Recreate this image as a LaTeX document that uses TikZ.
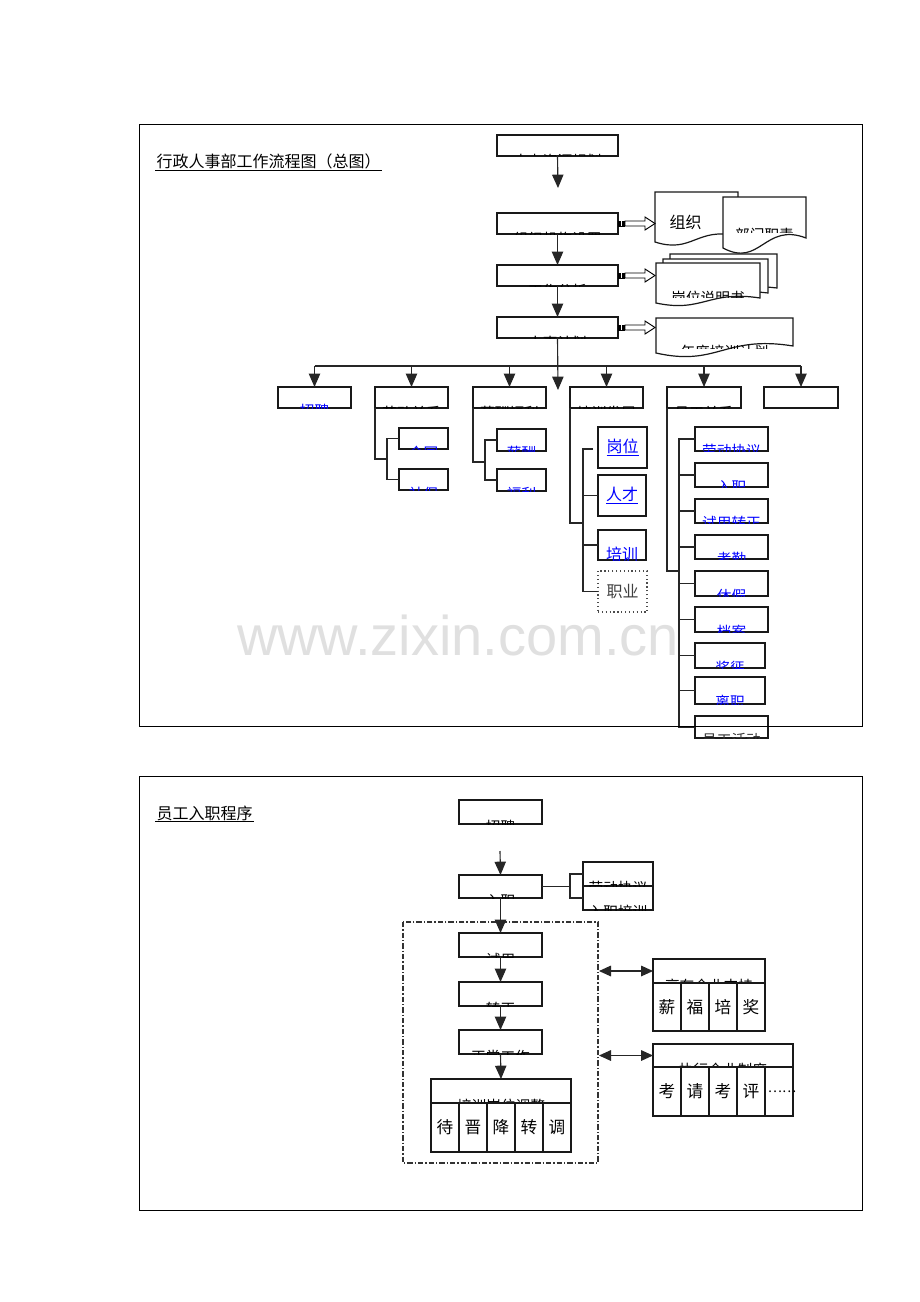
\documentclass[tikz,border=0pt]{standalone}
\usepackage{fontspec}
\setmainfont{Noto Sans CJK SC}
\newfontfamily\wmfont{Liberation Sans}
\usetikzlibrary{arrows.meta}
% [opt]{x1}{y1}{x2}{y2}{name}{text}
\newcommand\mkbox[7][]{\node[box,#1,minimum width={(#4-#2)*0.75pt},minimum height={(#5-#3)*0.75pt}] (#6) at ({(#2+#4)/2},{(#3+#5)/2}) {#7};}
% {name}{x1}{y1}{x2}{y2}{colour}{offset}{text}
\newcommand\cliptx[8]{\begin{scope}\clip (#2,#3) rectangle (#4,#5);\node[anchor=north,inner sep=0pt,text=#6,font=\fontsize{11}{13}\selectfont] (#1) at ({(#2+#4)/2},{#5-#7}) {#8};\end{scope}}
% {x1}{y1}{x2}{ybottom-right}{d}
\newcommand\docpath[5]{(#1,#2) -- (#3,#2) -- (#3,#4) .. controls ({#1+0.5*(#3-#1)},{#4-1.6*#5}) and ({#1+0.45*(#3-#1)},{#4+3*#5}) .. (#1,{#4+#5}) -- cycle}
% {y}
\newcommand\blockarr[1]{%
 \fill[black] (618,{#1-3}) rectangle (625,{#1+3});
 \draw[white,line width=0.6pt] (621.5,{#1-2.5}) -- (621.5,{#1+2.5});
 \filldraw[fill=white,draw=black,line width=0.7pt] (625,{#1-2.5}) -- (645,{#1-2.5}) -- (645,{#1-6.5}) -- (655,#1) -- (645,{#1+6.5}) -- (645,{#1+2.5}) -- (625,{#1+2.5}) -- cycle;}
\begin{document}
\begin{tikzpicture}[x=0.75pt,y=-0.75pt,
 box/.style={draw=black!90,line width=0.9pt,fill=white,inner sep=0pt,outer sep=0pt},
 ln/.style={draw=black!85,line width=0.85pt},
 arr/.style={ln,-{Triangle[width=8.5pt,length=10pt]}},
 darr/.style={ln,{Triangle[width=8pt,length=9pt]}-{Triangle[width=8pt,length=9pt]}},
 frame/.style={draw=black,line width=0.7pt},
 cell/.style={font=\fontsize{12.5}{14}\selectfont},
 big/.style={font=\fontsize{12}{14}\selectfont}]
\fill[white] (0,0) rectangle (920,1302);
\useasboundingbox (0,0) rectangle (920,1302);

% watermark
\node[text=black!12,font=\wmfont\fontsize{42}{42}\selectfont] (wm) at (458,635) {www.zixin.com.cn};

%================ TOP PART ================
\node[anchor=base west,inner sep=1pt,big] (t1) at (155,167) {行政人事部工作流程图（总图）};
\draw[line width=0.8pt] (t1.south west) -- (t1.south east);

\mkbox{497}{135}{618}{156}{A1}{}
\mkbox{497}{213}{618}{234}{A2}{}
\mkbox{497}{265}{618}{286}{A3}{}
\mkbox{497}{317}{618}{338}{A4}{}
\cliptx{a1t}{497}{135}{618}{156}{black}{2}{人力资源规划}
\cliptx{a2t}{497}{213}{618}{234}{black}{2}{组织机构设置}
\cliptx{a3t}{497}{265}{618}{286}{black}{2}{工作分析}
\cliptx{a4t}{497}{317}{618}{338}{black}{2}{人事计划}

\coordinate (c1) at (558,188);
\coordinate (cA) at (558,390);
\draw[arr] (A1.south) -- (c1);
\draw[arr] (A2.south) -- (A3.north);
\draw[arr] (A3.south) -- (A4.north);

% documents
\filldraw[box] \docpath{655}{192}{738}{236}{6};
\node[big,anchor=west] (doc1t) at (665,222) {组织};
\filldraw[box] \docpath{723}{197}{806}{238}{10};
\cliptx{doc2t}{723}{197}{806}{232}{black}{4}{部门职责}
\filldraw[box] \docpath{670}{254}{777}{288}{4};
\filldraw[box] \docpath{663}{259}{768}{293}{4};
\filldraw[box] \docpath{656}{263}{760}{298}{5};
\cliptx{doc3t}{656}{263}{760}{297}{black}{6}{岗位说明书}
\filldraw[box] \docpath{656}{318}{793}{346}{7};
\cliptx{doc4t}{656}{318}{793}{348}{black}{3}{年度培训计划}

\blockarr{223.5}
\blockarr{275.5}
\blockarr{327.5}

% second level
\mkbox{278}{387}{351}{408}{R1}{}
\mkbox{375}{387}{448}{408}{R2}{}
\mkbox{473}{387}{546}{408}{R3}{}
\mkbox{570}{387}{643}{408}{R4}{}
\mkbox{667}{387}{741}{408}{R5}{}
\mkbox{764}{387}{838}{408}{R6}{}
\cliptx{r1t}{278}{387}{351}{408}{blue}{4}{招聘}
\cliptx{r2t}{375}{387}{448}{408}{black}{2.5}{劳动关系}
\cliptx{r3t}{473}{387}{546}{408}{black}{2.5}{薪酬福利}
\cliptx{r4t}{570}{387}{643}{408}{black}{2.5}{培训发展}
\cliptx{r5t}{667}{387}{741}{408}{black}{2.5}{员工关系}

\coordinate (h) at (558,366);
\draw[ln] (R1.north |- h) -- (R6.north |- h);
\foreach \r in {R1,R2,R3,R4,R5,R6}{\draw[arr] (\r.north |- h) -- (\r.north);}
\draw[arr] (A4.south) -- (cA);

% branch 2
\mkbox{399}{428}{448}{449}{B1}{}
\mkbox{399}{469}{448}{490}{B2}{}
\cliptx{b1t}{399}{428}{448}{449}{blue}{3}{合同}
\cliptx{b2t}{399}{469}{448}{490}{blue}{3}{社保}
\draw[ln] (R2.south west) |- (387,459);
\draw[ln] (B1.west) -- ++(-12,0) |- (B2.west);

% branch 3
\mkbox{497}{429}{546}{451}{C1}{}
\mkbox{497}{469}{546}{491}{C2}{}
\cliptx{c1t}{497}{429}{546}{451}{blue}{5}{薪酬}
\cliptx{c2t}{497}{469}{546}{491}{blue}{4}{福利}
\draw[ln] (R3.south west) |- (485,462);
\draw[ln] (C1.west) -- ++(-12,0) |- (C2.west);

% branch 4
\mkbox{598}{427}{647}{468}{D1}{\textcolor{blue}{\fontsize{12}{14}\selectfont\underline{岗位}}}
\mkbox{598}{475}{646}{516}{D2}{\textcolor{blue}{\fontsize{12}{14}\selectfont\underline{人才}}}
\mkbox{598}{530}{646}{560}{D3}{}
\begin{scope}\clip (598,530) rectangle (646,560);
\node[anchor=north,inner sep=0pt,text=blue,big] (d3t) at (622,547) {\underline{培训}};
\end{scope}
\mkbox[draw=black!70,dotted]{598}{571}{647}{612}{D4}{\textcolor{black!75}{\fontsize{12}{14}\selectfont 职业}}
\draw[ln] (R4.south west) |- (583,523);
\coordinate (d0) at (593,449);
\draw[ln] (d0) -- (583,449) |- (D4.west);
\draw[ln] (D2.west) -- ++(-15,0);
\draw[ln] (D3.west) -- ++(-15,0);

% branch 5
\mkbox{695}{427}{768}{451}{E1}{}
\mkbox{695}{463}{768}{487}{E2}{}
\mkbox{695}{499}{768}{523}{E3}{}
\mkbox{695}{535}{768}{559}{E4}{}
\mkbox{695}{571}{768}{596}{E5}{}
\mkbox{695}{607}{768}{632}{E6}{}
\mkbox{695}{643}{765}{668}{E7}{}
\mkbox{695}{677}{765}{704}{E8}{}
\mkbox{695}{716}{768}{738}{E9}{}
\cliptx{e1t}{695}{427}{768}{451}{blue}{7}{劳动协议}
\cliptx{e2t}{695}{463}{768}{487}{blue}{7}{入职}
\cliptx{e3t}{695}{499}{768}{523}{blue}{7}{试用转正}
\cliptx{e4t}{695}{535}{768}{559}{blue}{7}{考勤}
\cliptx{e5t}{695}{571}{768}{596}{blue}{7}{休假}
\cliptx{e6t}{695}{607}{768}{632}{blue}{7}{档案}
\cliptx{e7t}{695}{643}{765}{668}{blue}{7}{奖惩}
\cliptx{e8t}{695}{677}{765}{704}{blue}{9}{离职}
\cliptx{e9t}{695}{716}{768}{738}{black!80}{5}{员工活动}
\draw[ln] (R5.south west) |- (679,571);
\draw[ln] (E1.west) -- ++(-16,0) |- (E9.west);
\foreach \e in {E2,E3,E4,E5,E6,E7,E8}{\draw[ln] (\e.west) -- ++(-16,0);}

\draw[frame] (139,124) rectangle (862,726);

%================ BOTTOM PART ================
\node[anchor=base west,inner sep=1pt,big] (t2) at (155,819) {员工入职程序};
\draw[line width=0.8pt] (t2.south west) -- (t2.south east);

\mkbox{459}{800}{542}{824}{G1}{}
\cliptx{g1t}{459}{800}{542}{824}{black}{4}{招聘}
\mkbox{459}{875}{542}{898}{G2}{}
\cliptx{g2t}{459}{875}{542}{898}{black}{4}{入职}
\coordinate (g0) at (500,851);
\draw[arr] (g0) -- (G2.north);

\mkbox{583}{862}{653}{886}{H1}{}
\mkbox{583}{886}{653}{910}{H2}{}
\cliptx{h1t}{583}{862}{653}{886}{black}{5}{劳动协议}
\cliptx{h2t}{583}{886}{653}{910}{black}{5}{入职培训}
\draw[ln] (G2.east) -- ++(28,0);
\draw[ln] (H1.west) -- ++(-13,0) |- (H2.west);

\draw[black!80,line width=0.8pt,dash pattern=on 4pt off 1.5pt on 1pt off 1.5pt] (403,922) rectangle (598,1163);

\mkbox{459}{933}{542}{957}{T1}{}
\mkbox{459}{982}{542}{1006}{T2}{}
\mkbox{459}{1030}{542}{1054}{T3}{}
\cliptx{t1t}{459}{933}{542}{957}{black}{4}{试用}
\cliptx{t2t}{459}{982}{542}{1006}{black}{4}{转正}
\cliptx{t3t}{459}{1030}{542}{1054}{black}{4}{正常工作}
\mkbox{431}{1079}{571}{1103}{T4}{}
\cliptx{t4t}{431}{1079}{571}{1103}{black}{4}{培训岗位调整}
\mkbox[cell]{431}{1103}{459}{1152}{P1}{待}
\mkbox[cell]{459}{1103}{487}{1152}{P2}{晋}
\mkbox[cell]{487}{1103}{515}{1152}{P3}{降}
\mkbox[cell]{515}{1103}{543}{1152}{P4}{转}
\mkbox[cell]{543}{1103}{571}{1152}{P5}{调}
\draw[arr] (G2.south) -- (T1.north);
\draw[arr] (T1.south) -- (T2.north);
\draw[arr] (T2.south) -- (T3.north);
\draw[arr] (T3.south) -- (T4.north);

\mkbox{653}{959}{765}{983}{S1}{}
\cliptx{s1t}{653}{959}{765}{983}{black}{4}{享有企业支持}
\mkbox[cell]{653}{983}{681}{1031}{Q1}{薪}
\mkbox[cell]{681}{983}{709}{1031}{Q2}{福}
\mkbox[cell]{709}{983}{737}{1031}{Q3}{培}
\mkbox[cell]{737}{983}{765}{1031}{Q4}{奖}

\mkbox{653}{1044}{793}{1067}{U1}{}
\cliptx{u1t}{653}{1044}{793}{1067}{black}{4}{执行企业制度}
\mkbox[cell]{653}{1067}{681}{1116}{V1}{考}
\mkbox[cell]{681}{1067}{709}{1116}{V2}{请}
\mkbox[cell]{709}{1067}{737}{1116}{V3}{考}
\mkbox[cell]{737}{1067}{765}{1116}{V4}{评}
\mkbox{765}{1067}{793}{1116}{V5}{}
\node[font=\fontsize{10}{10}\selectfont,inner sep=0pt] (v5t) at (782,1092) {……};

\coordinate (s0) at (599,971);
\coordinate (u0) at (599,1055.5);
\draw[darr] (s0) -- (S1.west);
\draw[darr] (u0) -- (U1.west);

\draw[frame] (139,776) rectangle (862,1210);
\end{tikzpicture}
\end{document}
